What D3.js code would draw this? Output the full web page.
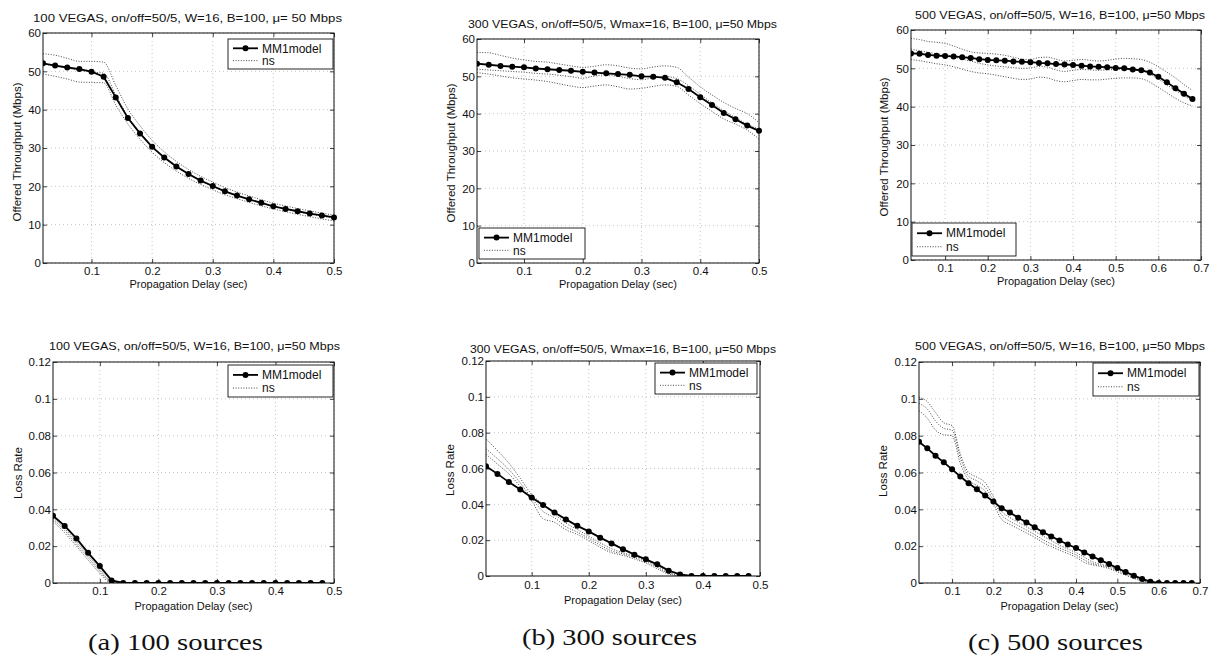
<!DOCTYPE html>
<html>
<head>
<meta charset="utf-8">
<script src="https://cdn.jsdelivr.net/npm/d3@7"></script>
<style>
  body { margin: 0; background: #fff; }
  svg text { font-family: "Liberation Sans", Arial, Helvetica, sans-serif; fill: #111; }
</style>
</head>
<body>
<svg id="fig" width="1211" height="659"></svg>
<script>
// ---------- data ----------
// propagation delay grids (sec)
const delayTo50 = [0.02,0.04,0.06,0.08,0.10,0.12,0.14,0.16,0.18,0.20,0.22,0.24,0.26,0.28,0.30,0.32,0.34,0.36,0.38,0.40,0.42,0.44,0.46,0.48,0.50];
const delayTo48 = [0.02,0.04,0.06,0.08,0.10,0.12,0.14,0.16,0.18,0.20,0.22,0.24,0.26,0.28,0.30,0.32,0.34,0.36,0.38,0.40,0.42,0.44,0.46,0.48];
const delayTo68 = [0.02,0.04,0.06,0.08,0.10,0.12,0.14,0.16,0.18,0.20,0.22,0.24,0.26,0.28,0.30,0.32,0.34,0.36,0.38,0.40,0.42,0.44,0.46,0.48,0.50,0.52,0.54,0.56,0.58,0.60,0.62,0.64,0.66,0.68];

// offered throughput (Mbps), 100 sources
const mm1Thr100 = [52.1,51.5,51.0,50.6,49.9,48.6,43.2,37.8,33.8,30.3,27.5,25.2,23.2,21.5,20.1,18.7,17.6,16.6,15.7,14.8,14.1,13.5,12.9,12.4,11.9];
const nsThr100Hi  = [54.6,54.2,53.4,52.6,52.6,52.4,46.3,40.2,35.8,32.0,29.0,26.5,24.4,22.6,21.1,19.7,18.5,17.5,16.5,15.6,14.9,14.2,13.6,13.0,12.5];
const nsThr100Mid = [51.9,51.4,50.9,50.3,49.8,49.5,43.8,38.3,34.0,30.4,27.6,25.2,23.2,21.5,20.0,18.7,17.6,16.6,15.7,14.8,14.1,13.4,12.8,12.2,11.7];
const nsThr100Lo  = [49.3,48.7,48.0,47.2,47.1,47.0,41.2,36.3,32.3,28.9,26.2,24.0,22.1,20.5,19.1,17.8,16.8,15.8,14.9,14.1,13.4,12.7,12.1,11.5,11.0];

// offered throughput (Mbps), 300 sources
const mm1Thr300 = [53.4,53.1,52.8,52.6,52.4,52.1,51.9,51.7,51.5,51.2,51.0,50.8,50.6,50.4,50.0,49.9,49.6,48.4,46.6,44.4,42.3,40.2,38.5,36.8,35.4];
const nsThr300Hi  = [56.4,56.3,55.6,54.9,54.4,54.0,53.8,53.3,52.8,52.4,52.7,53.1,52.8,52.2,52.0,52.5,52.8,52.4,49.8,47.2,45.0,43.0,41.4,40.0,37.6];
const nsThr300Mid = [51.9,51.7,51.5,51.3,51.1,50.8,50.6,50.3,49.9,49.5,50.1,50.4,50.0,49.4,49.1,49.6,49.9,49.4,47.5,45.2,42.9,40.8,38.9,37.2,35.8];
const nsThr300Lo  = [51.0,50.6,50.1,49.6,49.3,49.0,48.6,48.0,47.4,47.0,47.4,47.7,47.2,46.6,46.8,47.3,47.7,47.3,45.0,42.7,40.6,38.6,37.2,35.6,33.2];

// offered throughput (Mbps), 500 sources
const mm1Thr500 = [53.9,53.8,53.5,53.3,53.2,53.1,52.9,52.7,52.4,52.2,52.1,52.0,51.8,51.7,51.6,51.4,51.3,51.1,51.0,50.9,50.7,50.5,50.4,50.3,50.1,50.0,49.7,49.5,48.9,47.8,46.4,44.8,43.4,42.0];
const nsThr500Hi  = [57.8,57.5,57.0,56.8,56.5,55.8,55.0,54.3,54.0,53.9,53.7,53.4,52.9,52.4,52.3,52.8,52.9,52.4,51.9,52.1,52.3,52.1,51.9,52.1,52.4,52.6,52.5,52.3,51.6,50.4,49.0,47.5,45.8,44.2];
const nsThr500Mid = [55.0,54.6,54.2,53.8,53.5,53.0,52.4,51.9,51.3,50.9,50.6,50.4,50.2,50.0,50.1,50.5,50.3,49.6,49.2,49.5,49.7,49.6,49.5,49.6,49.7,49.8,49.7,49.4,48.5,47.2,45.7,44.2,42.8,41.6];
const nsThr500Lo  = [52.3,52.0,51.6,51.2,50.9,50.4,49.8,49.2,48.8,48.6,48.2,47.8,47.4,47.1,47.2,47.7,47.5,46.8,46.5,46.8,47.1,47.0,47.0,47.2,47.4,47.5,47.5,47.3,46.4,45.0,43.6,42.2,41.0,40.2];

// loss rate, 100 sources
const mm1Loss100 = [0.0365,0.0310,0.0242,0.0164,0.0092,0.0014,0,0,0,0,0,0,0,0,0,0,0,0,0,0,0,0,0,0];
const nsLoss100Hi  = [0.0355,0.0295,0.0225,0.0150,0.0075,0.0008,0,0,0,0,0,0,0,0,0,0,0,0,0,0,0,0,0,0];
const nsLoss100Mid = [0.0345,0.0285,0.0212,0.0138,0.0064,0.0004,0,0,0,0,0,0,0,0,0,0,0,0,0,0,0,0,0,0];
const nsLoss100Lo  = [0.0335,0.0272,0.0200,0.0125,0.0053,0.0000,0,0,0,0,0,0,0,0,0,0,0,0,0,0,0,0,0,0];

// loss rate, 300 sources
const mm1Loss300 = [0.0613,0.0570,0.0524,0.0483,0.0438,0.0396,0.0355,0.0316,0.0280,0.0249,0.0214,0.0182,0.0150,0.0119,0.0093,0.0065,0.0030,0.0009,0,0,0,0,0,0];
const nsLoss300Hi  = [0.0765,0.0700,0.0630,0.0545,0.0455,0.0400,0.0345,0.0295,0.0260,0.0222,0.0185,0.0152,0.0130,0.0110,0.0088,0.0055,0.0022,0.0004,0,0,0,0,0,0];
const nsLoss300Mid = [0.0710,0.0655,0.0595,0.0520,0.0435,0.0360,0.0325,0.0275,0.0245,0.0210,0.0172,0.0140,0.0123,0.0103,0.0080,0.0048,0.0016,0.0002,0,0,0,0,0,0];
const nsLoss300Lo  = [0.0680,0.0625,0.0570,0.0500,0.0420,0.0320,0.0300,0.0258,0.0232,0.0198,0.0160,0.0130,0.0115,0.0095,0.0072,0.0040,0.0010,0,0,0,0,0,0,0];

// loss rate, 500 sources
const mm1Loss500 = [0.0767,0.0731,0.0691,0.0655,0.0617,0.0578,0.0542,0.0509,0.0475,0.0442,0.0406,0.0383,0.0354,0.0329,0.0303,0.0276,0.0253,0.0231,0.0209,0.0190,0.0166,0.0144,0.0123,0.0103,0.0081,0.0060,0.0040,0.0022,0.0007,0,0,0,0,0];
const nsLoss500Hi  = [0.1010,0.0985,0.0925,0.0870,0.0855,0.0700,0.0600,0.0575,0.0545,0.0470,0.0390,0.0355,0.0330,0.0305,0.0280,0.0255,0.0230,0.0205,0.0185,0.0165,0.0140,0.0115,0.0102,0.0092,0.0075,0.0055,0.0035,0.0018,0.0005,0,0,0,0,0];
const nsLoss500Mid = [0.0975,0.0945,0.0880,0.0840,0.0830,0.0680,0.0580,0.0555,0.0520,0.0450,0.0370,0.0335,0.0312,0.0288,0.0262,0.0235,0.0212,0.0190,0.0172,0.0152,0.0125,0.0105,0.0095,0.0085,0.0068,0.0048,0.0030,0.0014,0.0003,0,0,0,0,0];
const nsLoss500Lo  = [0.0935,0.0895,0.0830,0.0805,0.0800,0.0650,0.0560,0.0530,0.0500,0.0430,0.0345,0.0318,0.0295,0.0272,0.0248,0.0220,0.0198,0.0178,0.0160,0.0140,0.0112,0.0098,0.0090,0.0078,0.0060,0.0042,0.0025,0.0010,0.0001,0,0,0,0,0];

// ticks and labels
const thrTicks  = [0,10,20,30,40,50,60];
const lossTicks = [0,0.02,0.04,0.06,0.08,0.1,0.12];
const lossTickLabels = ["0","0.02","0.04","0.06","0.08","0.1","0.12"];
const delayTicks05 = [0.1,0.2,0.3,0.4,0.5];
const delayTicks07 = [0.1,0.2,0.3,0.4,0.5,0.6,0.7];

const titles = [
  "100 VEGAS, on/off=50/5, W=16, B=100, \u03bc= 50 Mbps",
  "300 VEGAS, on/off=50/5, Wmax=16, B=100, \u03bc=50 Mbps",
  "500 VEGAS, on/off=50/5, W=16, B=100, \u03bc=50 Mbps",
  "100 VEGAS, on/off=50/5, W=16, B=100, \u03bc=50 Mbps",
  "300 VEGAS, on/off=50/5, Wmax=16, B=100, \u03bc=50 Mbps",
  "500 VEGAS, on/off=50/5, W=16, B=100, \u03bc=50 Mbps"
];
const captions = ["(a) 100 sources", "(b) 300 sources", "(c) 500 sources"];
const legendLabels = ["MM1model", "ns"];
const xAxisTitle = "Propagation Delay (sec)";
const thrAxisTitle = "Offered Throughput (Mbps)";
const lossAxisTitle = "Loss Rate";

// ---------- panel layout ----------
const panels = [
  { box:[43,334,33,263],  xDom:[0.02,0.5], xT:delayTicks05, yDom:[0,60],   yT:thrTicks,  yFmt:d=>String(d),
    xs:delayTo50, mm1:mm1Thr100, ns:[nsThr100Hi,nsThr100Mid,nsThr100Lo], title:titles[0], tBox:[33,342,21.5],
    yLab:thrAxisTitle, yLabPos:[17,152], xLabY:287.5, tickBase:274.5, leg:[228,39,105,30] },
  { box:[477,759,39,263], xDom:[0.02,0.5], xT:delayTicks05, yDom:[0,60],   yT:thrTicks,  yFmt:d=>String(d),
    xs:delayTo50, mm1:mm1Thr300, ns:[nsThr300Hi,nsThr300Mid,nsThr300Lo], title:titles[1], tBox:[468,777,27.5],
    yLab:thrAxisTitle, yLabPos:[451,153], xLabY:287.5, tickBase:274.5, leg:[479,228,106,31] },
  { box:[911,1201,30,260], xDom:[0.02,0.7], xT:delayTicks07, yDom:[0,60],  yT:thrTicks,  yFmt:d=>String(d),
    xs:delayTo68, mm1:mm1Thr500, ns:[nsThr500Hi,nsThr500Mid,nsThr500Lo], title:titles[2], tBox:[915,1205,19],
    yLab:thrAxisTitle, yLabPos:[884,147], xLabY:285, tickBase:271.5, leg:[912,223,104,33] },
  { box:[53,334,362,583], xDom:[0.02,0.5], xT:delayTicks05, yDom:[0,0.12], yT:lossTicks, yFmt:(d,i)=>lossTickLabels[i],
    xs:delayTo48, mm1:mm1Loss100, ns:[nsLoss100Hi,nsLoss100Mid,nsLoss100Lo], title:titles[3], tBox:[49,340,350],
    yLab:lossAxisTitle, yLabPos:[18,473], xLabY:609.5, tickBase:595, leg:[228,365,105,32] },
  { box:[486,760,361,576], xDom:[0.02,0.5], xT:delayTicks05, yDom:[0,0.12], yT:lossTicks, yFmt:(d,i)=>lossTickLabels[i],
    xs:delayTo48, mm1:mm1Loss300, ns:[nsLoss300Hi,nsLoss300Mid,nsLoss300Lo], title:titles[4], tBox:[470,776,353],
    yLab:lossAxisTitle, yLabPos:[450,470], xLabY:603.5, tickBase:589, leg:[655,363,102,31] },
  { box:[919,1200,362,583], xDom:[0.02,0.7], xT:delayTicks07, yDom:[0,0.12], yT:lossTicks, yFmt:(d,i)=>lossTickLabels[i],
    xs:delayTo68, mm1:mm1Loss500, ns:[nsLoss500Hi,nsLoss500Mid,nsLoss500Lo], title:titles[5], tBox:[915,1205,349.5],
    yLab:lossAxisTitle, yLabPos:[883,471], xLabY:609.5, tickBase:595, leg:[1093,363,106,33] }
];

const captionPos = [[88,263,650],[522,697,645],[968,1143,650]];

const svg = d3.select("#fig");
svg.append("rect").attr("width",1211).attr("height",659).attr("fill","#fff");

const FS = 11.5;
const nsDash = "1,1.6";

panels.forEach((p, pi) => {
  const [x0,x1,y0,y1] = p.box;
  const x = d3.scaleLinear().domain(p.xDom).range([x0,x1]);
  const y = d3.scaleLinear().domain(p.yDom).range([y1,y0]);
  const g = svg.append("g").attr("class","panel");

  // dotted grid
  g.append("g").selectAll("line").data(p.xT).join("line")
    .attr("x1",d=>x(d)).attr("x2",d=>x(d)).attr("y1",y0).attr("y2",y1)
    .attr("stroke","#b8b8b8").attr("stroke-width",0.8).attr("stroke-dasharray","1,3");
  g.append("g").selectAll("line").data(p.yT).join("line")
    .attr("x1",x0).attr("x2",x1).attr("y1",d=>y(d)).attr("y2",d=>y(d))
    .attr("stroke","#b8b8b8").attr("stroke-width",0.8).attr("stroke-dasharray","1,3");

  // axes with inward ticks
  const pad = p.tickBase - y1 - 0.71*FS;
  const ax = g.append("g").attr("transform",`translate(0,${y1})`)
    .call(d3.axisBottom(x).tickValues(p.xT).tickFormat(d=>String(d)).tickSizeInner(-4).tickSizeOuter(0).tickPadding(pad));
  const axT = g.append("g").attr("transform",`translate(0,${y0})`)
    .call(d3.axisTop(x).tickValues(p.xT).tickFormat("").tickSizeInner(-4).tickSizeOuter(0));
  const ay = g.append("g").attr("transform",`translate(${x0},0)`)
    .call(d3.axisLeft(y).tickValues(p.yT).tickFormat(p.yFmt).tickSizeInner(-4).tickSizeOuter(0).tickPadding(2));
  const ayR = g.append("g").attr("transform",`translate(${x1},0)`)
    .call(d3.axisRight(y).tickValues(p.yT).tickFormat("").tickSizeInner(-4).tickSizeOuter(0));
  [ax,axT,ay,ayR].forEach(a => {
    a.select(".domain").remove();
    a.selectAll("line").attr("stroke","#111").attr("stroke-width",0.8);
    a.selectAll("text").attr("font-size",FS).attr("fill","#111").attr("font-family",null);
  });

  // frame
  g.append("rect").attr("x",x0).attr("y",y0).attr("width",x1-x0).attr("height",y1-y0)
    .attr("fill","none").attr("stroke","#111").attr("stroke-width",1);

  // clip
  const cid = "clip"+pi;
  svg.append("clipPath").attr("id",cid).append("rect")
    .attr("x",x0).attr("y",y0-4).attr("width",x1-x0+4).attr("height",y1-y0+4);
  const plot = g.append("g").attr("clip-path",`url(#${cid})`);

  // ns curves (dotted)
  const nsLine = d3.line().x((d,i)=>x(p.xs[i])).y(d=>y(d)).curve(d3.curveMonotoneX);
  p.ns.forEach(series => {
    plot.append("path").datum(series).attr("d",nsLine)
      .attr("fill","none").attr("stroke","#333").attr("stroke-width",0.9)
      .attr("stroke-dasharray",nsDash);
  });

  // MM1 model: solid line with dots
  const mmLine = d3.line().x((d,i)=>x(p.xs[i])).y(d=>y(d));
  plot.append("path").datum(p.mm1).attr("d",mmLine)
    .attr("fill","none").attr("stroke","#000").attr("stroke-width",1.8);
  plot.append("g").selectAll("circle").data(p.mm1).join("circle")
    .attr("cx",(d,i)=>x(p.xs[i])).attr("cy",d=>y(d)).attr("r",3).attr("fill","#000");

  // title
  g.append("text").attr("x",(p.tBox[0]+p.tBox[1])/2).attr("y",p.tBox[2])
    .attr("text-anchor","middle").attr("font-size",11)
    .attr("textLength",p.tBox[1]-p.tBox[0]).attr("lengthAdjust","spacingAndGlyphs")
    .text(p.title);

  // axis titles
  g.append("text").attr("x",(x0+x1)/2).attr("y",p.xLabY).attr("text-anchor","middle")
    .attr("font-size",11).text(xAxisTitle);
  g.append("text").attr("transform",`translate(${p.yLabPos[0]},${p.yLabPos[1]}) rotate(-90)`)
    .attr("text-anchor","middle").attr("dy","0.35em").attr("font-size",11.5).text(p.yLab);

  // legend
  const [lx,ly,lw,lh] = p.leg;
  const lg = g.append("g");
  lg.append("rect").attr("x",lx).attr("y",ly).attr("width",lw).attr("height",lh)
    .attr("fill","#fff").attr("stroke","#111").attr("stroke-width",0.9);
  const r1 = ly + lh*0.31, r2 = ly + lh*0.72;
  lg.append("line").attr("x1",lx+5).attr("x2",lx+30).attr("y1",r1).attr("y2",r1)
    .attr("stroke","#000").attr("stroke-width",1.8);
  lg.append("circle").attr("cx",lx+17.5).attr("cy",r1).attr("r",3).attr("fill","#000");
  lg.append("line").attr("x1",lx+5).attr("x2",lx+30).attr("y1",r2).attr("y2",r2)
    .attr("stroke","#333").attr("stroke-width",0.9).attr("stroke-dasharray",nsDash);
  lg.append("text").attr("x",lx+34).attr("y",r1).attr("dy","0.35em").attr("font-size",12).text(legendLabels[0]);
  lg.append("text").attr("x",lx+34).attr("y",r2).attr("dy","0.35em").attr("font-size",12).text(legendLabels[1]);
});

// sub-figure captions
captions.forEach((c,i) => {
  const [a,b,yb] = captionPos[i];
  svg.append("text").attr("x",(a+b)/2).attr("y",yb)
    .attr("text-anchor","middle").attr("font-size",24)
    .attr("textLength",b-a).attr("lengthAdjust","spacingAndGlyphs")
    .style("font-family",'"Liberation Serif","Times New Roman",serif')
    .text(c);
});
</script>
</body>
</html>
